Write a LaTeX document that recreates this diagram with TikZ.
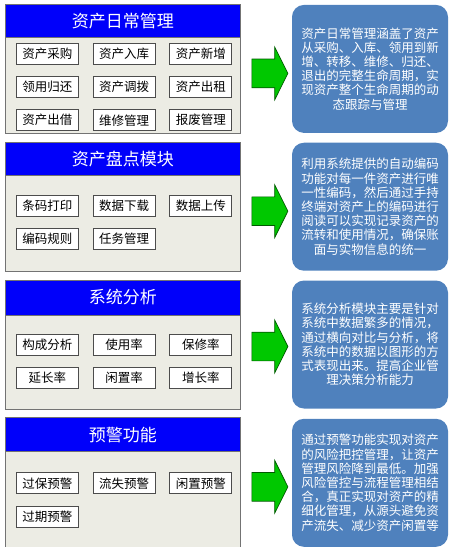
\documentclass[tikz,border=0pt]{standalone}
\usepackage{fontspec}
\setmainfont{Noto Sans CJK SC}
\usepackage{tikz}
\usetikzlibrary{%
	calc,%
	positioning,%
	shapes.arrows,%
}
\tikzset{
	nodes={align=center},%
	panel/.style={%
			draw=black!55,%
			fill=panelgray,%
			rectangle,%
			line width=0.8pt,%
			minimum width=235pt,%
			minimum height=129pt,%
			inner sep=0},%
	header/.style={%
			draw=black!55,%
			fill=hdrblue,%
			text=white,%
			rectangle,%
			line width=0.8pt,%
			font=\fontsize{17}{20}\selectfont,%
			minimum width=235pt,%
			minimum height=33pt,%
			inner sep=0},%
	item/.style={%
			draw=black!70,%
			fill=white,%
			rectangle,%
			line width=0.7pt,%
			font=\fontsize{12.5}{15}\selectfont,%
			minimum width=62pt,%
			minimum height=21pt,%
			inner sep=0},%
	bigarrow/.style={%
			draw=green!35!black,%
			fill=arrowgreen,%
			single arrow,%
			line width=0.7pt,%
			single arrow head extend=12pt,%
			single arrow tip angle=127,%
			minimum height=36pt,%
			inner xsep=0,%
			inner ysep=14pt},%
	desc/.style={%
			fill=descblue,%
			text=white,%
			rounded corners=12pt,%
			font=\fontsize{12.5}{14.2}\selectfont,%
			minimum width=156pt,%
			minimum height=128pt,%
			text width=150pt,%
			inner sep=3pt},%
}
\definecolor{hdrblue}{RGB}{0, 0, 250}
\definecolor{panelgray}{RGB}{236, 236, 228}
\definecolor{descblue}{RGB}{79, 129, 189}
\definecolor{arrowgreen}{RGB}{0, 200, 0}

\begin{document}
\begin{tikzpicture}[x=1pt, y=-1pt]%
	\useasboundingbox (0,0) rectangle (453,547);

	% 资产日常管理
	\node[panel, anchor=north west] (p1) at (5,4) {};
	\node[header, anchor=north west] (h1) at (p1.north west) {资产日常管理};

	\node[item] (cg) [below right=39pt and 11pt of p1.north west] {资产采购};
	\node[item] (rk) [right=14pt of cg] {资产入库};
	\node[item] (xz) [right=14pt of rk] {资产新增};
	\node[item] (ly) [below=11.5pt of cg] {领用归还};
	\node[item] (db) [right=14pt of ly] {资产调拨};
	\node[item] (cz) [right=14pt of db] {资产出租};
	\node[item] (cj) [below=11.5pt of ly] {资产出借};
	\node[item] (wx) [right=14pt of cj] {维修管理};
	\node[item] (bf) [right=14pt of wx] {报废管理};

	% 资产盘点模块
	\node[panel] (p2) [below=8pt of p1] {};
	\node[header, anchor=north west] (h2) at (p2.north west) {资产盘点模块};

	\node[item] (tm) [below right=53pt and 11pt of p2.north west] {条码打印};
	\node[item] (xq) [right=14pt of tm] {数据下载};
	\node[item] (sc) [right=14pt of xq] {数据上传};
	\node[item] (bm) [below=11.5pt of tm] {编码规则};
	\node[item] (rw) [right=14pt of bm] {任务管理};

	% 系统分析
	\node[panel] (p3) [below=8pt of p2] {};
	\node[header, anchor=north west, minimum height=35pt] (h3) at (p3.north west) {系统分析};

	\node[item] (gc) [below right=54pt and 11pt of p3.north west] {构成分析};
	\node[item] (sy) [right=14pt of gc] {使用率};
	\node[item] (bx) [right=14pt of sy] {保修率};
	\node[item] (yc) [below=11.5pt of gc] {延长率};
	\node[item] (xzl) [right=14pt of yc] {闲置率};
	\node[item] (zz) [right=14pt of xzl] {增长率};

	% 预警功能
	\node[panel, minimum height=130pt] (p4) [below=8pt of p3] {};
	\node[header, anchor=north west, minimum height=34pt] (h4) at (p4.north west) {预警功能};

	\node[item] (gb) [below right=55pt and 11pt of p4.north west] {过保预警};
	\node[item] (ls) [right=14pt of gb] {流失预警};
	\node[item] (xy) [right=14pt of ls] {闲置预警};
	\node[item] (gq) [below=11.5pt of gb] {过期预警};

	% 说明
	\node[desc] (d1) [right=51pt of p1] {资产日常管理涵盖了资产\\从采购、入库、领用到新\\增、转移、维修、归还、\\退出的完整生命周期，实\\现资产整个生命周期的动\\态跟踪与管理};
	\node[desc] (d2) [right=51pt of p2] {利用系统提供的自动编码\\功能对每一件资产进行唯\\一性编码，然后通过手持\\终端对资产上的编码进行\\阅读可以实现记录资产的\\流转和使用情况，确保账\\面与实物信息的统一};
	\node[desc] (d3) [right=51pt of p3] {系统分析模块主要是针对\\系统中数据繁多的情况，\\通过横向对比与分析，将\\系统中的数据以图形的方\\式表现出来。提高企业管\\理决策分析能力};
	\node[desc] (d4) [right=51pt of p4] {通过预警功能实现对资产\\的风险把控管理，让资产\\管理风险降到最低。加强\\风险管控与流程管理相结\\合，真正实现对资产的精\\细化管理，从源头避免资\\产流失、减少资产闲置等};

	\node[bigarrow] (a1) at ($(p1.east)!0.5!(d1.west)+(0,4.5)$) {};
	\node[bigarrow] (a2) at ($(p2.east)!0.5!(d2.west)+(0,4.5)$) {};
	\node[bigarrow] (a3) at ($(p3.east)!0.5!(d3.west)+(0,2)$) {};
	\node[bigarrow] (a4) at ($(p4.east)!0.5!(d4.west)+(0,4)$) {};
\end{tikzpicture}
\end{document}
